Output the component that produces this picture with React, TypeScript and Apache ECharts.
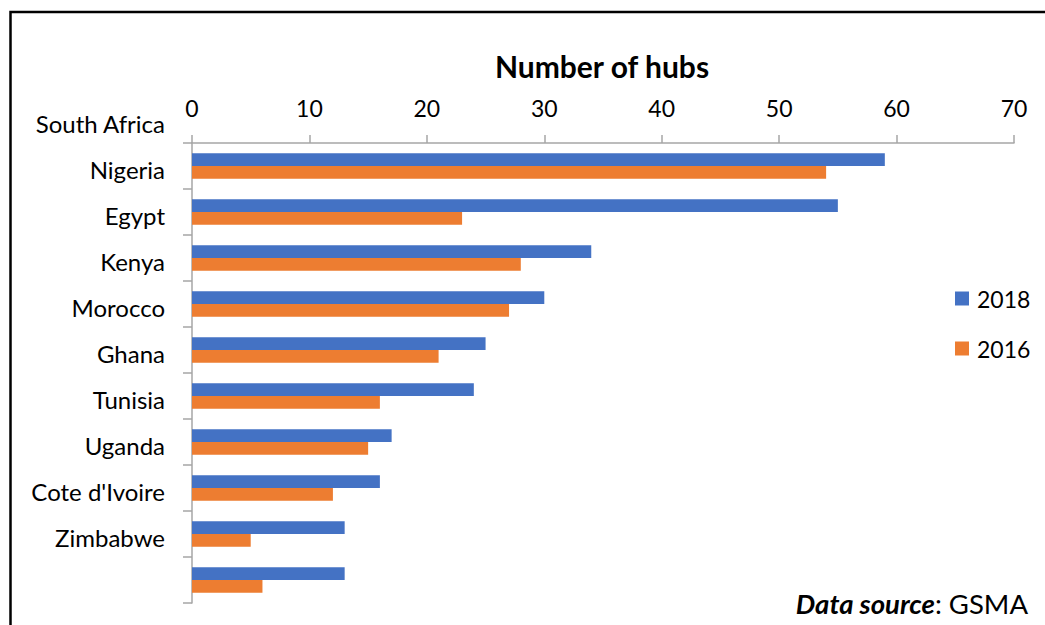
import React, { useEffect, useRef } from "react";
import * as echarts from "echarts";

// Innovation hubs per country (GSMA)
const countries = [
  "South Africa",
  "Nigeria",
  "Egypt",
  "Kenya",
  "Morocco",
  "Ghana",
  "Tunisia",
  "Uganda",
  "Cote d'Ivoire",
  "Zimbabwe",
];
const hubs2018 = [59, 55, 34, 30, 25, 24, 17, 16, 13, 13];
const hubs2016 = [54, 23, 28, 27, 21, 16, 15, 12, 5, 6];
const seriesNames = ["2018", "2016"];
const axisMax = 70;
const axisStep = 10;

const FONT = "Lato, 'Noto Sans', sans-serif";
const AXIS_GRAY = "#a6a6a6";

export default function App() {
  const ref = useRef<HTMLDivElement>(null);

  useEffect(() => {
    if (!ref.current) return;
    const chart = echarts.init(ref.current, undefined, { renderer: "svg" });
    chart.setOption({
      animation: false,
      backgroundColor: "#ffffff",
      textStyle: { fontFamily: FONT, color: "#000" },
      title: {
        text: "Number of hubs",
        left: 602,
        top: 48,
        padding: 0,
        textAlign: "center",
        textStyle: { fontFamily: FONT, fontSize: 30, fontWeight: "bold", color: "#000", lineHeight: 36 },
      },
      legend: {
        orient: "vertical",
        left: 955,
        top: 287,
        padding: 0,
        itemWidth: 14,
        itemHeight: 14,
        itemGap: 27,
        icon: "rect",
        data: seriesNames,
        textStyle: { fontFamily: FONT, fontSize: 23, color: "#000", padding: [0, 0, 0, 3] },
      },
      grid: { left: 192, top: 143, right: 31, bottom: 22, containLabel: false },
      xAxis: {
        type: "value",
        position: "top",
        min: 0,
        max: axisMax,
        interval: axisStep,
        splitLine: { show: false },
        axisLine: { show: true, lineStyle: { color: AXIS_GRAY, width: 1.5 } },
        axisTick: { show: true, length: 8, lineStyle: { color: AXIS_GRAY, width: 1.5 } },
        axisLabel: {
          margin: 23,
          fontFamily: FONT,
          fontSize: 23,
          lineHeight: 24,
          color: "#000",
        },
      },
      yAxis: {
        type: "category",
        inverse: true,
        data: countries,
        axisLine: { show: true, lineStyle: { color: AXIS_GRAY, width: 1.5 } },
        axisTick: { show: true, length: 9, lineStyle: { color: AXIS_GRAY, width: 1.5 } },
        axisLabel: {
          interval: 0,
          hideOverlap: false,
          margin: 27,
          fontFamily: FONT,
          fontSize: 24,
          lineHeight: 86,
          verticalAlign: "bottom",
          color: "#000",
        },
      },
      series: [
        {
          name: seriesNames[0],
          type: "bar",
          data: hubs2018,
          barWidth: 12.7,
          barGap: "0%",
          itemStyle: { color: "#4472C4" },
        },
        {
          name: seriesNames[1],
          type: "bar",
          data: hubs2016,
          barWidth: 12.7,
          barGap: "0%",
          itemStyle: { color: "#ED7D31" },
        },
      ],
      graphic: [
        {
          type: "rect",
          shape: { x: 10.5, y: 12, width: 1100, height: 700 },
          style: { fill: "none", stroke: "#000", lineWidth: 2.5 },
          silent: true,
        },
        {
          type: "text",
          x: 1028,
          y: 603,
          style: {
            text: "{b|Data source}: GSMA",
            align: "right",
            verticalAlign: "middle",
            fontFamily: FONT,
            fontSize: 27.5,
            fill: "#000",
            rich: {
              b: { fontFamily: FONT, fontSize: 27.5, fontWeight: "bold", fontStyle: "italic", fill: "#000" },
            },
          },
        },
      ],
    });
    return () => chart.dispose();
  }, []);

  return (
    <div
      ref={ref}
      style={{ position: "fixed", left: 0, top: 0, width: 1045, height: 625 }}
    />
  );
}
